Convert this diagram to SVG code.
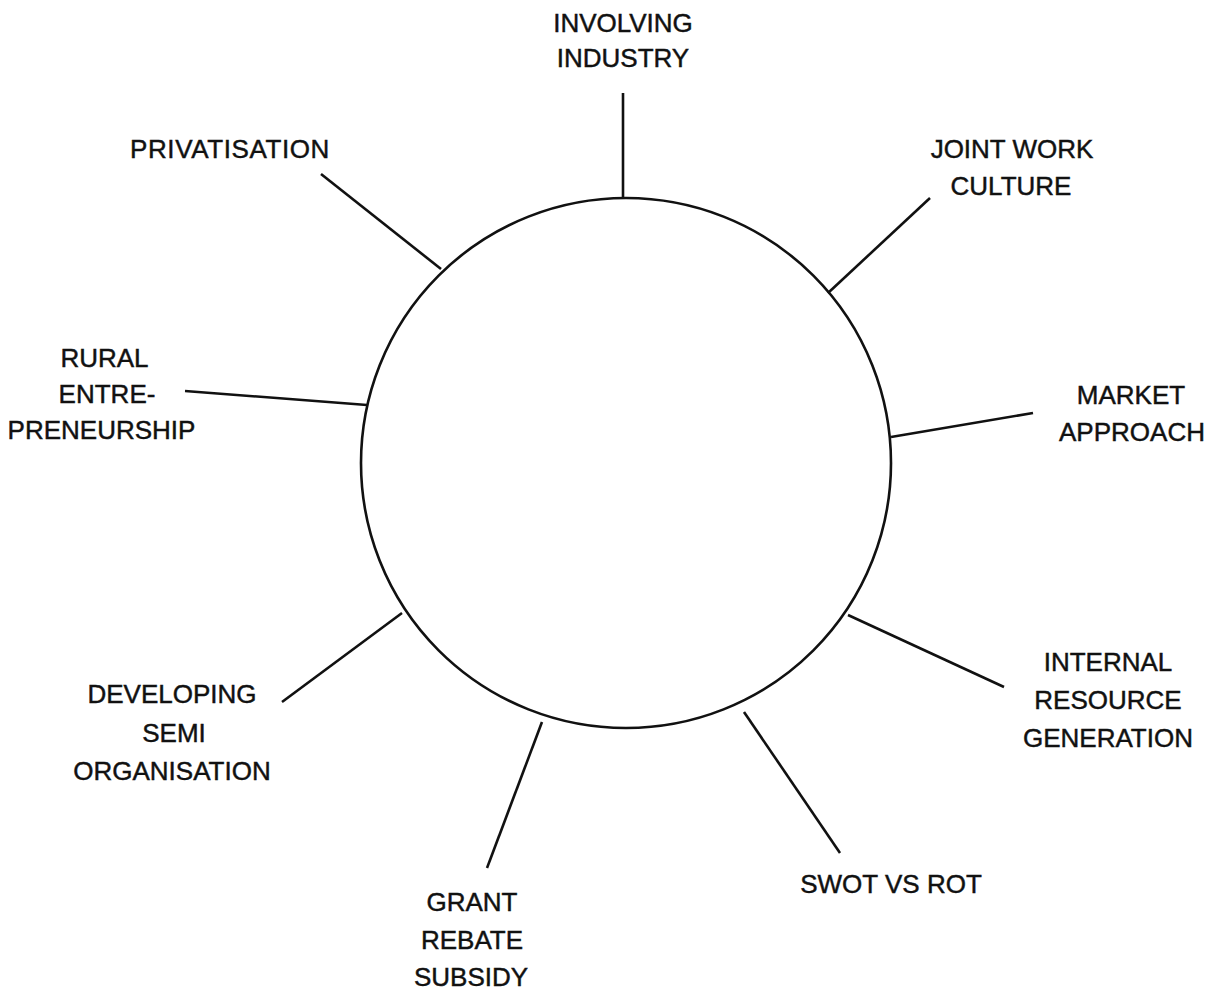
<svg xmlns="http://www.w3.org/2000/svg" width="1223" height="992" viewBox="0 0 1223 992">
  <style>
    .lbl { font-family: "Liberation Sans", Arial, sans-serif; font-size: 26px; fill: #111; stroke: #111; stroke-width: 0.45; text-anchor: middle; }
    .ray { stroke: #111; stroke-width: 2.6; fill: none; stroke-linecap: butt; }
    .hub { stroke: #111; stroke-width: 2.6; fill: #fff; }
  </style>
  <rect width="1223" height="992" fill="#fff"/>

  <!-- central circle -->
  <g id="hub">
    <circle class="hub" cx="626" cy="463" r="265"/>
  </g>

  <!-- spokes from the circle out to each label -->
  <g id="connectors">
    <line class="ray" x1="623" y1="93" x2="623" y2="198"/>
    <line class="ray" x1="321" y1="174" x2="441" y2="269"/>
    <line class="ray" x1="930" y1="198" x2="828" y2="293"/>
    <line class="ray" x1="185" y1="391" x2="367" y2="405"/>
    <line class="ray" x1="1033" y1="413" x2="891" y2="437"/>
    <line class="ray" x1="848" y1="615" x2="1004" y2="687"/>
    <line class="ray" x1="744" y1="712" x2="840" y2="853"/>
    <line class="ray" x1="282" y1="702" x2="402" y2="613"/>
    <line class="ray" x1="542" y1="722" x2="487" y2="868"/>
  </g>

  <g id="involving-industry">
    <text class="lbl" x="623" y="32">INVOLVING</text>
    <text class="lbl" x="623" y="67">INDUSTRY</text>
  </g>
  <g id="privatisation">
    <text class="lbl" x="230" y="158" letter-spacing="0.6">PRIVATISATION</text>
  </g>
  <g id="joint-work-culture">
    <text class="lbl" x="1012" y="158">JOINT WORK</text>
    <text class="lbl" x="1011" y="195">CULTURE</text>
  </g>
  <g id="rural-entrepreneurship">
    <text class="lbl" x="104.5" y="367">RURAL</text>
    <text class="lbl" x="107" y="403">ENTRE-</text>
    <text class="lbl" x="101.5" y="439">PRENEURSHIP</text>
  </g>
  <g id="market-approach">
    <text class="lbl" x="1131" y="404">MARKET</text>
    <text class="lbl" x="1132" y="441">APPROACH</text>
  </g>
  <g id="internal-resource-generation">
    <text class="lbl" x="1108" y="671">INTERNAL</text>
    <text class="lbl" x="1108" y="709">RESOURCE</text>
    <text class="lbl" x="1108" y="747">GENERATION</text>
  </g>
  <g id="swot-vs-rot">
    <text class="lbl" x="891" y="893">SWOT VS ROT</text>
  </g>
  <g id="developing-semi-organisation">
    <text class="lbl" x="172" y="703">DEVELOPING</text>
    <text class="lbl" x="174" y="742">SEMI</text>
    <text class="lbl" x="172" y="780">ORGANISATION</text>
  </g>
  <g id="grant-rebate-subsidy">
    <text class="lbl" x="472" y="911">GRANT</text>
    <text class="lbl" x="472" y="949">REBATE</text>
    <text class="lbl" x="471" y="986">SUBSIDY</text>
  </g>
</svg>
